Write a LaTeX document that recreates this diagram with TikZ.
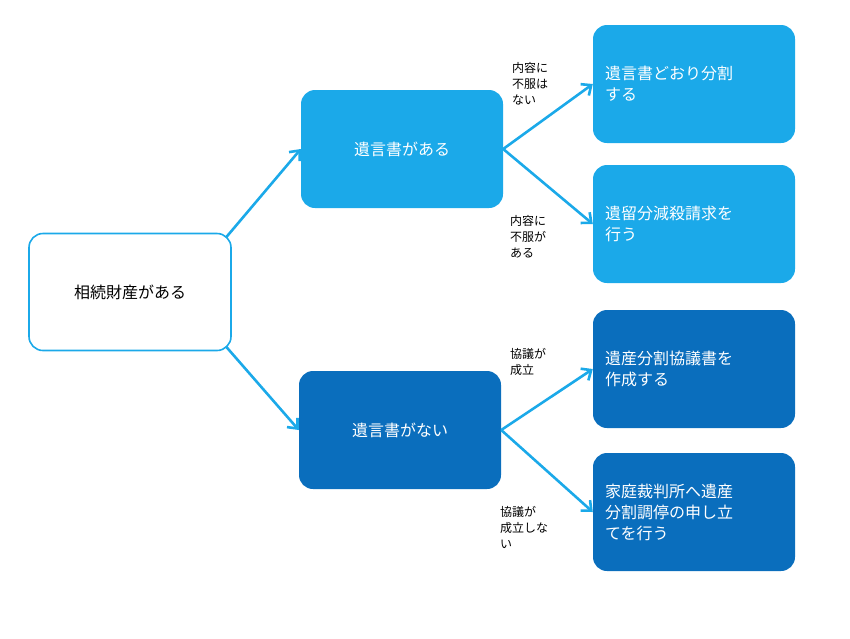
\documentclass[tikz,border=0pt]{standalone}
\usepackage{fontspec}
\setmainfont{Noto Sans CJK JP}
\usetikzlibrary{arrows.meta}
\definecolor{lightblue}{HTML}{1BA9E9}
\definecolor{darkblue}{HTML}{0A6EBD}

\begin{document}
\begin{tikzpicture}[x=1pt,y=-1pt]

\tikzset{box/.style = {shape=rectangle,rounded corners=14pt,minimum width=202pt,minimum height=118pt,font=\fontsize{16}{21}\selectfont}}
\tikzset{lbox/.style = {box,fill=lightblue,text=white}}
\tikzset{dbox/.style = {box,fill=darkblue,text=white}}
\tikzset{branch/.style = {-{Straight Barb[length=8pt,width=14pt]},line width=2.6pt,draw=lightblue}}
\tikzset{cond/.style = {align=left,anchor=north west,inner sep=0pt,font=\fontsize{12}{16}\selectfont}}

\useasboundingbox (0,0) rectangle (850,638);

\node[box,draw=lightblue,line width=1.6pt,minimum width=202pt,minimum height=117pt] (root) at (130,292) {相続財産がある};

\node[lbox] (yes) at (402,149) {遺言書がある};
\node[dbox] (no) at (400,430) {遺言書がない};

\node[lbox,text width=178pt,align=left] (r1) at (694,84) {遺言書どおり分割\\する};
\node[lbox,text width=178pt,align=left] (r2) at (694,224) {遺留分減殺請求を\\行う};
\node[dbox,text width=178pt,align=left] (r3) at (694,369) {遺産分割協議書を\\作成する};
\node[dbox,text width=178pt,align=left] (r4) at (694,512) {家庭裁判所へ遺産\\分割調停の申し立\\てを行う};

\draw[branch] ([xshift=-6pt,yshift=-5pt]root.north east) -- (yes.west);
\draw[branch] ([xshift=-6pt,yshift=5pt]root.south east) -- (no.west);
\draw[branch] (yes.east) -- (r1.west);
\draw[branch] (yes.east) -- (r2.west);
\draw[branch] (no.east) -- (r3.west);
\draw[branch] (no.east) -- (r4.west);

\node[cond] (c1) at (512,62) {内容に\\不服は\\ない};
\node[cond] (c2) at (510,215) {内容に\\不服が\\ある};
\node[cond] (c3) at (510,348) {協議が\\成立};
\node[cond] (c4) at (500,506) {協議が\\成立しな\\い};

\end{tikzpicture}
\end{document}
